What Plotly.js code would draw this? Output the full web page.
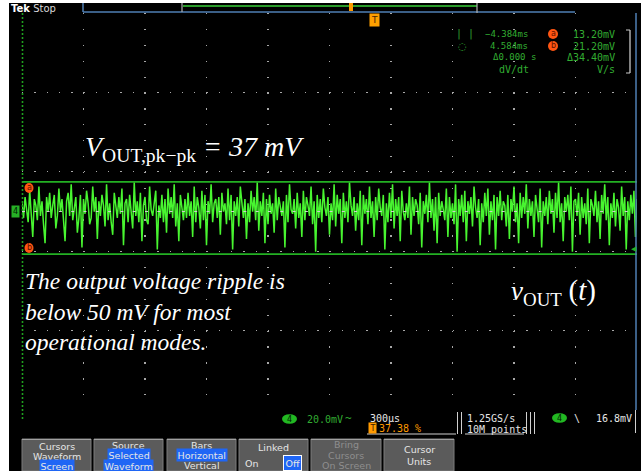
<!DOCTYPE html>
<html><head><meta charset="utf-8">
<script src="https://cdn.plot.ly/plotly-3.0.1.min.js"></script>
<style>html,body{margin:0;padding:0;background:#000;}#chart{width:641px;height:471px;}</style>
</head><body><div id="chart"></div>
<script>
// ---- data ----
const timeStartUs = 0;        // left edge of the record shown
const sampleStepUs = 7.5;     // spacing of the samples below
const timeDivUs = 300;        // 300 µs/div
const voutMv = [
 3,-4,6,1,-6,9,-2,-13,5,2,-5,11,-3,4,-7,-16,6,-1,8,-4,
 2,7,-9,-3,10,-1,5,-6,-15,4,8,-3,12,-5,1,6,-11,-4,7,-18,
 5,-2,9,3,-7,-4,11,-1,6,-14,4,-3,7,2,-8,12,-5,3,-6,-12,
 8,1,-4,6,-2,10,-17,3,5,-6,7,-1,-9,13,-3,4,-6,8,-15,2,
 6,-5,-7,11,0,-3,4,9,-19,2,-4,7,-6,5,-11,10,-2,6,-4,12,
 -8,3,-15,7,1,-5,5,-4,8,-3,4,-13,11,-6,6,1,-9,9,-5,7,
 -17,4,-2,12,-6,3,5,-4,6,-12,8,-1,3,-7,10,-5,7,-19,4,-3,
 6,-8,11,2,-4,5,-14,3,-6,9,-1,6,-5,13,-10,4,-3,8,-16,5,
 -7,7,-2,3,-11,10,-5,6,1,-3,4,-18,7,-6,12,0,-2,5,-9,8,
 -4,3,-13,9,-5,6,2,-3,11,-7,4,-20,7,-4,5,-6,10,1,-3,6,
 -12,3,-5,12,-8,7,-2,5,-16,8,-4,4,-6,13,2,-3,6,-10,3,-5,
 9,-17,7,-2,5,-7,11,-4,4,-13,6,-5,10,1,-3,7,-19,3,-6,8,
 -4,12,-9,5,-3,6,-15,9,-1,-5,3,-4,11,-12,6,-3,5,2,-7,8,
 -18,4,-2,7,-6,13,-4,5,-10,6,-16,8,-3,4,0,-5,10,-13,6,-4,
 3,-7,12,-20,5,-3,7,-6,9,-15,4,-2,6,-8,11,1,-4,5,-17,3,
 -6,8,-3,10,-12,4,-5,7,-19,6,-3,9,-5,4,2,-8,7,-14,5,-1,
 11,-6,3,-16,8,-4,6,-2,12,-9,5,-3,4,-13,7,1,-6,10,-18,4,
 -3,6,-7,9,-2,5,-11,8,-4,13,-6,3,-15,6,-1,7,-5,11,-20,4,
 5,-3,8,-12,6,-4,3,-7,10,-16,5,2,-3,9,-6,4,-14,7,-2,12,
 -5,6,-17,3,-4,8,-8,5,1,-10,11,-3,6,-19,4,-5,7,-2,9,-13,
 5
];
const cursorAmV = 13.2;
const cursorBmV = -21.2;
const readoutTimes = ["\u22124.384ms", "4.584ms", "\u03940.000 s", "dV/dt"];
const readoutVolts = ["13.20mV", "21.20mV", "\u039434.40mV", "V/s"];
const menuButtons = [
  ["Cursors", "Waveform", "Screen"],
  ["Source", "Selected", "Waveform"],
  ["Bars", "Horizontal", "Vertical"],
  ["Linked", "On", "Off"],
  ["Bring", "Cursors", "On Screen"],
  ["Cursor", "Units"]
];

// ---- layout helpers (pixel -> paper) ----
const L = 22, T = 13, W = 615, H = 397;
const px = x => (x - L) / W;
const py = y => (T + H - y) / H;
const annotations = [];
const shapes = [];
function label(text, x, y, o) {
  o = o || {};
  const a = {
    xref: 'paper', yref: 'paper', x: px(x), y: py(y), text: text, showarrow: false,
    xanchor: o.xa || 'left', yanchor: o.ya || 'middle', align: o.align || 'left',
    font: {family: o.family || 'DejaVu Sans Mono, monospace', size: o.size || 10, color: o.color || '#e6e6e6'},
    borderpad: o.pad === undefined ? 0 : o.pad
  };
  if (o.bg) a.bgcolor = o.bg;
  if (o.border) { a.bordercolor = o.border; a.borderwidth = 1; }
  annotations.push(a);
}
function rect(x0, y0, x1, y1, fill, line, lw, layer) {
  shapes.push({type: 'rect', xref: 'paper', yref: 'paper', x0: px(x0), x1: px(x1), y0: py(y0), y1: py(y1),
    fillcolor: fill, line: {color: line || fill, width: lw === undefined ? 0 : lw}, layer: layer || 'above'});
}
function seg(x0, y0, x1, y1, color, w, dash, layer) {
  shapes.push({type: 'line', xref: 'paper', yref: 'paper', x0: px(x0), x1: px(x1), y0: py(y0), y1: py(y1),
    line: {color: color, width: w || 1, dash: dash || 'solid'}, layer: layer || 'above'});
}
function disc(cx, cy, rx, ry, fill) {
  shapes.push({type: 'circle', xref: 'paper', yref: 'paper', x0: px(cx - rx), x1: px(cx + rx), y0: py(cy + ry), y1: py(cy - ry),
    fillcolor: fill, line: {width: 0}, layer: 'above'});
}

// white frame of the screenshot
rect(0, 0, 9, 471, '#ffffff');
rect(0, 0, 641, 3, '#ffffff');

// cursor bars (horizontal) - data coords
shapes.push({type: 'line', xref: 'paper', yref: 'y', x0: 0, x1: 1, y0: cursorAmV, y1: cursorAmV, line: {color: '#23b023', width: 1.6}});
shapes.push({type: 'line', xref: 'paper', yref: 'y', x0: 0, x1: 1, y0: cursorBmV, y1: cursorBmV, line: {color: '#23b023', width: 1.6}});
// vertical cursors at left edge (dotted)
seg(22.5, 13, 22.5, 420, '#1f9f1f', 1.6, '2px,2px');
// center crosshair ticks
seg(22, 211.5, 637, 211.5, '#cfcfcf', 1, '3px,9.3px');
// right edge
seg(636, 13, 636, 410, '#4f7fb5', 1.5);

// cursor labels
disc(29, 188, 4.5, 5, '#ff5512'); label('a', 29, 187.5, {xa: 'center', size: 8, color: '#5a1000', family: 'DejaVu Sans'});
disc(29, 248, 4.5, 5, '#ff5512'); label('b', 29, 247.5, {xa: 'center', size: 8, color: '#5a1000', family: 'DejaVu Sans'});

// channel 4 marker at left and trigger level at right
label('4', 15, 212, {xa: 'center', size: 8, color: '#002200', bg: '#26b026', pad: 1, family: 'DejaVu Sans'});
label('\u25C0', 634, 249, {xa: 'center', size: 7, color: '#26b026', family: 'DejaVu Sans'});

// top record view
seg(83, 3, 83, 12, '#4f7fb5', 1.5);
seg(83, 12, 575, 12, '#4f7fb5', 1.5);
seg(183, 6, 477, 6, '#2a9a2a', 2);
seg(182, 3, 182, 12, '#b0b0b0', 1.2);
seg(477, 3, 477, 13, '#b0b0b0', 1.2);
rect(349, 3, 353, 11, '#ff9a00');
label('T', 374, 20, {xa: 'center', size: 9, color: '#4a2600', bg: '#ffa000', pad: 1, family: 'DejaVu Sans'});
label('<b>Tek</b> <span style="color:#d8d8d8">Stop</span>', 10, 8, {size: 10, color: '#ffffff', family: 'DejaVu Sans'});

// cursor readout panel
const g = '#32ad32';
label('| |', 455, 34, {color: g});
label('\u25CC', 457, 46, {color: g, family: 'DejaVu Sans'});
label(readoutTimes[0], 529, 34, {xa: 'right', color: g, size: 9});
label(readoutTimes[1], 529, 46, {xa: 'right', color: g, size: 9});
label(readoutTimes[2], 492, 57, {color: g, size: 9});
label(readoutTimes[3], 514, 69, {xa: 'center', color: g});
disc(553, 34, 5, 5, '#ff5512'); label('a', 553, 33.5, {xa: 'center', size: 8, color: '#5a1000', family: 'DejaVu Sans'});
disc(553, 46, 5, 5, '#ff5512'); label('b', 553, 45.5, {xa: 'center', size: 8, color: '#5a1000', family: 'DejaVu Sans'});
label(readoutVolts[0], 616, 34, {xa: 'right', color: g});
label(readoutVolts[1], 616, 46, {xa: 'right', color: g});
label(readoutVolts[2], 616, 57, {xa: 'right', color: g});
label(readoutVolts[3], 616, 69, {xa: 'right', color: g});
seg(630, 30, 630, 73, '#c8c8c8', 1.3);
seg(626, 30, 630, 30, '#c8c8c8', 1);
seg(626, 73, 630, 73, '#c8c8c8', 1);

// status line
disc(289.5, 419, 7.5, 4.8, '#22b822'); label('4', 289.5, 419, {xa: 'center', size: 8, color: '#002200', family: 'DejaVu Sans'});
label('20.0mV', 306, 419, {color: g});
label('~', 344, 418, {color: g, size: 11});
label('300\u00B5s', 369, 418);
label('T', 372, 428, {xa: 'center', size: 8, color: '#3a1c00', bg: '#ff9a00', pad: 0.5, family: 'DejaVu Sans'});
label('37.38 %', 378, 428, {color: '#ff9a00'});
seg(367, 434, 456, 434, '#d0d0d0', 1);
seg(457.5, 412, 457.5, 434, '#d0d0d0', 1); seg(461.5, 412, 461.5, 434, '#d0d0d0', 1);
label('1.25GS/s', 466, 418);
label('10M points', 466, 429);
seg(465, 434, 524, 434, '#d0d0d0', 1);
seg(526.5, 412, 526.5, 434, '#d0d0d0', 1); seg(530.5, 412, 530.5, 434, '#d0d0d0', 1);
seg(534.5, 412, 534.5, 434, '#d0d0d0', 1);
disc(559.5, 418, 7.5, 4.8, '#22b822'); label('4', 559.5, 418, {xa: 'center', size: 8, color: '#002200', family: 'DejaVu Sans'});
label('\\', 577, 418, {xa: 'center'});
label('16.8mV', 633, 418, {xa: 'right'});
seg(635.5, 410, 635.5, 433, '#d0d0d0', 1);

// soft-key menu
const btnX = [[22, 91], [94, 163], [167, 236], [239, 308], [311, 381], [384, 454]];
const blue = '#1f66f5';
btnX.forEach(function (b) {
  rect(b[0], 439, b[1], 471, '#5b5b5b', '#7d7d7d', 1);
  seg(b[0], 439.5, b[1], 439.5, '#a0a0a0', 1);
});
const cx = btnX.map(b => (b[0] + b[1]) / 2);
const bf = {family: 'DejaVu Sans, sans-serif', xa: 'center', size: 9.5};
const hb = Object.assign({bg: blue, pad: 0.5}, bf);
label(menuButtons[0][0], cx[0], 446, bf);
label(menuButtons[0][1], cx[0], 456, bf);
label(menuButtons[0][2], cx[0], 465.5, hb);
label(menuButtons[1][0], cx[1], 445.5, bf);
label(menuButtons[1][1], cx[1], 455.5, hb);
label(menuButtons[1][2], cx[1], 465.5, hb);
label(menuButtons[2][0], cx[2], 445.5, bf);
label(menuButtons[2][1], cx[2], 455.5, hb);
label(menuButtons[2][2], cx[2], 465.5, bf);
label(menuButtons[3][0], cx[3], 447.5, bf);
label(menuButtons[3][1], 252, 463.5, bf);
label(menuButtons[3][2], 292, 463.5, Object.assign({}, hb, {pad: 1.5, border: '#ffffff'}));
const dim = Object.assign({}, bf, {color: '#8e8e8e'});
label(menuButtons[4][0], cx[4], 444.5, dim);
label(menuButtons[4][1], cx[4], 455, dim);
label(menuButtons[4][2], cx[4], 465.5, dim);
label(menuButtons[5][0], cx[5], 449.5, bf);
label(menuButtons[5][1], cx[5], 461, bf);

// slide text overlays
const serif = 'Liberation Serif, Times New Roman, serif';
label('<i>V</i><sub>OUT,pk\u2212pk</sub><i> = 37 mV</i>', 84, 148, {family: serif, size: 28, color: '#ffffff'});
label('<i>The output voltage ripple is</i><br><i>below 50 mV for most</i><br><i>operational modes.</i>', 24, 311, {family: serif, size: 23.5, color: '#ffffff'});
label('<i>v</i><sub>OUT</sub> <span style="font-size:29px">(<i>t</i>)</span>', 510, 292, {family: serif, size: 27, color: '#ffffff'});

const data = [{
  type: 'scatter', mode: 'lines', x0: timeStartUs, dx: sampleStepUs, y: voutMv,
  line: {color: '#48f530', width: 1.5}, hoverinfo: 'skip'
}];

const layout = {
  width: 641, height: 471,
  margin: {l: L, r: 641 - L - W, t: T, b: 471 - T - H, pad: 0},
  paper_bgcolor: '#000000', plot_bgcolor: '#000000',
  showlegend: false,
  xaxis: {range: [0, 10 * timeDivUs], tick0: 0, dtick: timeDivUs, showticklabels: false, ticks: '',
    showgrid: true, gridcolor: '#a8a8a8', gridwidth: 1.2, griddash: '1.3px,14.58px', zeroline: false, showline: false, fixedrange: true},
  yaxis: {range: [-95.4, 93.6], tick0: 18.0, dtick: 37.78, showticklabels: false, ticks: '',
    showgrid: true, gridcolor: '#a8a8a8', gridwidth: 1.2, griddash: '1.3px,11px', zeroline: false, showline: false, fixedrange: true},
  shapes: shapes,
  annotations: annotations
};
Plotly.newPlot('chart', data, layout, {staticPlot: true, displayModeBar: false});
</script>
</body></html>
